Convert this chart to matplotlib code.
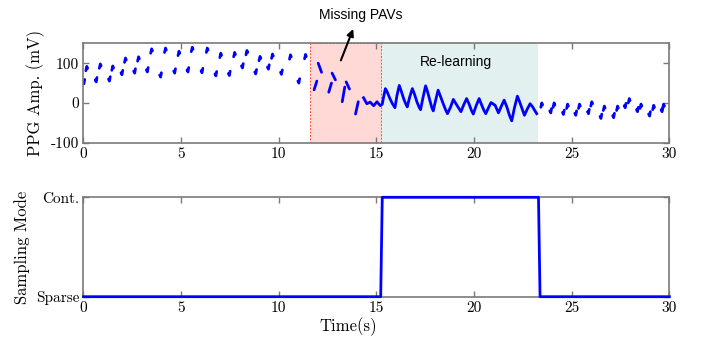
import numpy as np
import matplotlib
matplotlib.use("Agg")
import matplotlib.pyplot as plt

# sparse sampling windows (peak and trough values), before the missing part
peak_t = [0.17, 0.86, 1.5, 2.15, 2.82, 3.49, 4.2, 4.89, 5.57, 6.34, 7.03, 7.74,
          8.37, 9.04, 9.68, 10.6, 11.37]
peak_v = [92, 98, 93, 113, 116, 136, 138, 130, 140, 138, 125, 127,
          132, 117, 123, 121, 122]
trough_t = [0.02, 0.65, 1.33, 1.97, 2.62, 3.27, 3.95, 4.67, 5.35, 6.07, 6.78,
            7.47, 8.14, 8.82, 9.47, 10.14, 11.03]
trough_v = [48, 53, 55, 71, 75, 78, 65, 75, 78, 76, 68,
            69, 88, 73, 85, 72, 50]

# sparse windows after re-learning
peak2_t = [23.47, 24.1, 24.79, 25.4, 26.03, 26.67, 27.35, 27.95, 28.55, 29.2, 29.71]
peak2_v = [0, 0, -3, -3, 3, -8, -8, 11, -3, -6, -3]
trough2_t = [23.93, 24.58, 25.21, 25.86, 26.5, 27.15, 27.74, 28.37, 28.99, 29.63]
trough2_v = [-25, -29, -31, -27, -39, -37, -12, -22, -33, -22]

# segments during missing PAVs (NaN = gap)
miss_t = [11.81, 11.95, np.nan, 12.02, 12.19, np.nan, 12.56, 12.70, np.nan,
          12.73, 12.9, np.nan, 13.25, 13.38, np.nan, 13.45, 13.62, np.nan,
          13.93, 14.07]
miss_v = [33, 55, np.nan, 100, 77, np.nan, 27, 50, np.nan,
          75, 58, np.nan, 3, 40, np.nan, 53, 35, np.nan,
          -28, 3]

# continuous signal (re-learning)
cont_t = [14.34, 14.51, 14.68, 14.86, 15.03, 15.2, 15.3, 15.38, 15.46, 15.55,
          15.69, 15.82, 15.95, 16.05, 16.17, 16.27, 16.40, 16.50, 16.58, 16.70,
          16.84, 16.95, 17.08, 17.18, 17.26, 17.38, 17.52, 17.62, 17.75, 17.84,
          17.91, 18.03, 18.16, 18.27, 18.42, 18.55, 18.64, 18.8, 18.94, 19.05,
          19.2, 19.33, 19.47, 19.62, 19.74, 19.86, 19.96, 20.1, 20.26, 20.38,
          20.5, 20.6, 20.74, 20.87, 21.08, 21.25, 21.4, 21.54, 21.68, 21.82,
          21.93, 22.07, 22.22, 22.34, 22.47, 22.58, 22.72, 22.87, 23.0, 23.12,
          23.21]
cont_v = [13, -2, 2, -7, 3, -7, -3, 18, 36, 28,
          11, -2, -12, 18, 44, 30, 10, -2, -10, 14,
          36, 22, 2, -10, -17, 12, 43, 28, 4, -12,
          -20, 6, 32, 18, -2, -18, -27, -10, 9, 0,
          -12, -22, -5, 11, -2, -18, -28, -8, 11, -4,
          -18, -27, -12, 1, -6, -25, -8, 7, -10, -32,
          -45, -12, 17, 2, -16, -31, -16, -2, -10, -20,
          -27]

# sampling mode
mode_t = [0, 15.22, 15.3, 23.3, 23.38, 30]
mode_v = [0, 0, 1, 1, 0, 0]

missing_span = (11.6, 15.26)
relearn_span = (15.26, 23.3)

plt.rcParams['font.family'] = 'serif'
plt.rcParams['font.serif'] = ['cmr10']
plt.rcParams['axes.unicode_minus'] = False
plt.rcParams['axes.formatter.use_mathtext'] = False

blue = '#0000ff'
gray = '#7a7a7a'

fig = plt.figure(figsize=(7.07, 3.45), dpi=100)
ax1 = fig.add_axes([0.1181, 0.5864, 0.8286, 0.2881])
ax2 = fig.add_axes([0.1181, 0.1400, 0.8286, 0.2881])

# shaded regions
ax1.axvspan(*relearn_span, facecolor='#e2f0f0', edgecolor='none', zorder=0)
ax1.axvspan(*missing_span, facecolor='#ffd9d6', edgecolor='#ff4a3a',
            linestyle=(0, (2, 1.5)), linewidth=0.7, zorder=0.5)

# sparse windows drawn as short strokes around the sampled peaks/troughs
dx = [-0.05, 0.0, 0.04]
for t, v in zip(peak_t + peak2_t, peak_v + peak2_v):
    ax1.plot([t + d for d in dx], [v - 11, v, v - 5], color=blue, lw=2,
             solid_capstyle='round')
for t, v in zip(trough_t + trough2_t, trough_v + trough2_v):
    ax1.plot([t + d for d in dx], [v + 5, v, v + 11], color=blue, lw=2,
             solid_capstyle='round')

ax1.plot(miss_t, miss_v, color=blue, lw=2, solid_capstyle='round')
ax1.plot(cont_t, cont_v, color=blue, lw=2, solid_joinstyle='round')

ax1.set_xlim(0, 30)
ax1.set_ylim(-100, 150)
ax1.set_yticks([-100, 0, 100])
ax1.set_xticks([0, 5, 10, 15, 20, 25, 30])
ax1.set_ylabel('PPG Amp. (mV)', fontsize=12)

ax1.annotate('', xy=(13.81, 186), xytext=(13.18, 107),
             xycoords='data', textcoords='data', annotation_clip=False,
             arrowprops=dict(arrowstyle='-|>', color='black', lw=1.5,
                             mutation_scale=10, shrinkA=0, shrinkB=0))
ax1.text(14.2, 222, 'Missing PAVs', family='Liberation Sans', fontsize=10,
         ha='center', va='center', clip_on=False)
ax1.text(19.07, 104, 'Re-learning', family='Liberation Sans', fontsize=10,
         ha='center', va='center')

ax2.plot(mode_t, mode_v, color=blue, lw=2, clip_on=False, zorder=5)
ax2.set_xlim(0, 30)
ax2.set_ylim(0, 1)
ax2.set_yticks([0, 1])
ax2.set_yticklabels(['Sparse', 'Cont.'])
ax2.set_xticks([0, 5, 10, 15, 20, 25, 30])
ax2.set_ylabel('Sampling Mode', fontsize=12)

for ax in (ax1, ax2):
    for s in ax.spines.values():
        s.set_color(gray)
        s.set_linewidth(1.2)
    ax.tick_params(direction='in', top=True, right=True, color=gray,
                   length=4, width=1, labelsize=11, pad=3)

fig.text(348 / 707, 1 - 327 / 345, 'Time(s)', fontsize=12,
         ha='center', va='center')

fig.savefig('out.png', dpi=100)
